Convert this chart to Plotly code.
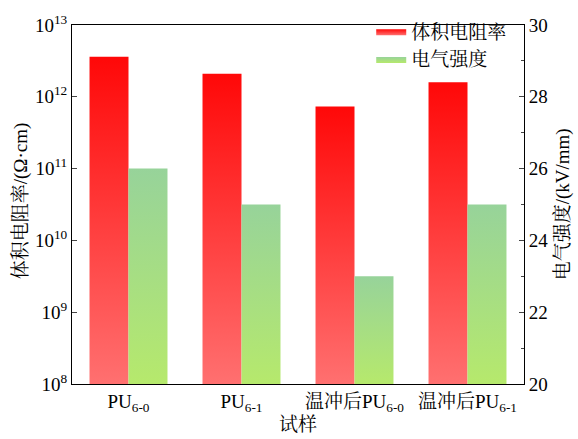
import plotly.graph_objects as go

categories = ["PU<sub>6-0</sub>", "PU<sub>6-1</sub>", "温冲后PU<sub>6-0</sub>", "温冲后PU<sub>6-1</sub>"]
resistivity = [3.6e12, 2.1e12, 7.3e11, 1.6e12]   # Ω·cm (left, log)
strength = [26, 25, 23, 25]                        # kV/mm (right)
left_tickvals = [1e8, 1e9, 1e10, 1e11, 1e12, 1e13]
left_ticktext = ["10<sup>8</sup>", "10<sup>9</sup>", "10<sup>10</sup>",
                 "10<sup>11</sup>", "10<sup>12</sup>", "10<sup>13</sup>"]

FONT = "Liberation Serif, 'Times New Roman', 'Noto Serif CJK SC', 'Noto Sans CJK SC', serif"
W = 0.345
RED_SCALE = [[0, "#FF7070"], [1, "#FF0808"]]
GREEN_SCALE = [[0, "#B6E96C"], [1, "#97D39A"]]

fig = go.Figure()

for i, v in enumerate(resistivity):
    fig.add_trace(go.Scatter(
        x=[i - W, i - W, i, i, i - W], y=[1e8, v, v, 1e8, 1e8],
        mode="lines", fill="toself", line=dict(width=0, color="#FF3030"),
        fillgradient=dict(type="vertical", colorscale=RED_SCALE),
        name="体积电阻率", legendgroup="r", showlegend=(i == 0),
        yaxis="y", hoverinfo="skip"))

for i, v in enumerate(strength):
    fig.add_trace(go.Scatter(
        x=[i, i, i + W, i + W, i], y=[20, v, v, 20, 20],
        mode="lines", fill="toself", line=dict(width=0, color="#A8DF88"),
        fillgradient=dict(type="vertical", colorscale=GREEN_SCALE),
        name="电气强度", legendgroup="g", showlegend=(i == 0),
        yaxis="y2", hoverinfo="skip"))

fig.update_layout(
    width=578, height=439,
    margin=dict(l=72, r=54, t=18, b=55),
    paper_bgcolor="white", plot_bgcolor="white",
    font=dict(family=FONT, size=18, color="black"),
    showlegend=True,
    legend=dict(x=0.662, y=1.035, xanchor="left", yanchor="top",
                bgcolor="rgba(0,0,0,0)", font=dict(size=19),
                itemsizing="constant", tracegroupgap=0),
    xaxis=dict(range=[-0.5, 3.5], tickvals=list(range(len(categories))),
               ticktext=categories, showline=True, mirror=True,
               linecolor="black", linewidth=1, ticks="", showgrid=False,
               zeroline=False, tickfont=dict(size=19), automargin=False),
    yaxis=dict(type="log", range=[8, 13], tickvals=left_tickvals,
               ticktext=left_ticktext, showline=True, linecolor="black",
               linewidth=1, ticks="inside", ticklen=5, showgrid=False,
               zeroline=False, tickfont=dict(size=19), automargin=False),
    yaxis2=dict(overlaying="y", side="right", range=[20, 30], dtick=2,
                showline=True, linecolor="black", linewidth=1,
                ticks="inside", ticklen=5, showgrid=False, zeroline=False,
                minor=dict(dtick=1, ticks="inside", ticklen=3, showgrid=False),
                tickfont=dict(size=19), automargin=False),
    annotations=[
        dict(text="体积电阻率/(Ω·cm)", xref="paper", yref="paper", x=-0.112, y=0.51,
             xanchor="center", yanchor="middle", textangle=-90, showarrow=False,
             font=dict(size=19)),
        dict(text="电气强度/(kV/mm)", xref="paper", yref="paper", x=1.086, y=0.5,
             xanchor="center", yanchor="middle", textangle=-90, showarrow=False,
             font=dict(size=19)),
        dict(text="试样", xref="paper", yref="paper", x=0.5, y=-0.112,
             xanchor="center", yanchor="middle", showarrow=False,
             font=dict(size=19)),
    ],
)

fig.write_html("out.html", config={"displayModeBar": False},
               post_script="document.body.style.margin='0';document.body.style.overflow='hidden';")
